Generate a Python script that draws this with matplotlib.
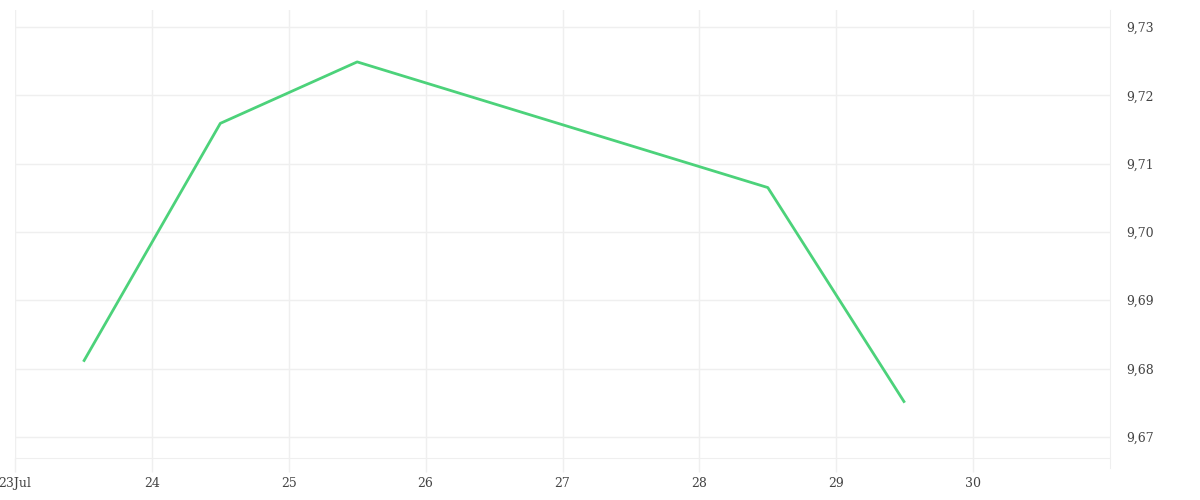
import numpy as np
import matplotlib
matplotlib.use("Agg")
import matplotlib.pyplot as plt
import matplotlib.dates as mdates
from datetime import datetime

# data
dates = ["2024-07-23 12:00", "2024-07-24 12:00", "2024-07-25 12:00",
         "2024-07-28 12:00", "2024-07-29 12:00"]
values = [9.681, 9.7159, 9.7249, 9.7065, 9.675]

tick_dates = ["2024-07-23", "2024-07-24", "2024-07-25", "2024-07-26",
              "2024-07-27", "2024-07-28", "2024-07-29", "2024-07-30"]
tick_labels = ["23Jul", "24", "25", "26", "27", "28", "29", "30"]
y_ticks = [9.67, 9.68, 9.69, 9.70, 9.71, 9.72, 9.73]

grid_col = "#efefef"
line_col = "#4cd27a"


def to_dt(s):
    fmt = "%Y-%m-%d %H:%M" if " " in s else "%Y-%m-%d"
    return datetime.strptime(s, fmt)


def main():
    fig = plt.figure(figsize=(12, 5), dpi=100)
    ax = fig.add_axes([0.0125, 0.084, 0.9125, 0.896])

    x = [to_dt(d) for d in dates]
    ax.plot(x, values, color=line_col, lw=2, solid_capstyle="butt")

    ax.set_xlim(to_dt("2024-07-23"), to_dt("2024-07-31"))
    ax.set_ylim(9.6669, 9.7325)

    ax.set_xticks([mdates.date2num(to_dt(d)) for d in tick_dates])
    ax.set_xticklabels(tick_labels)
    ax.set_yticks(y_ticks)
    ax.set_yticklabels([f"{v:.2f}".replace(".", ",") for v in y_ticks])

    ax.yaxis.tick_right()
    ax.grid(True, color=grid_col, lw=1)
    ax.set_axisbelow(True)

    for side in ["top", "left"]:
        ax.spines[side].set_visible(False)
    ax.spines["bottom"].set_color(grid_col)
    ax.spines["right"].set_color(grid_col)
    ax.spines["right"].set_bounds(9.6669 - 0.0015, 9.7325)
    ax.spines["right"].set_clip_on(False)

    ax.tick_params(axis="x", length=10, color=grid_col, width=1, pad=4,
                   labelsize=9, labelcolor="#444444")
    ax.tick_params(axis="y", length=0, pad=12, labelsize=9,
                   labelcolor="#444444")
    for lab in ax.get_xticklabels() + ax.get_yticklabels():
        lab.set_family("DejaVu Serif")

    fig.savefig("out.png", dpi=100, facecolor="white")


if __name__ == "__main__":
    main()
